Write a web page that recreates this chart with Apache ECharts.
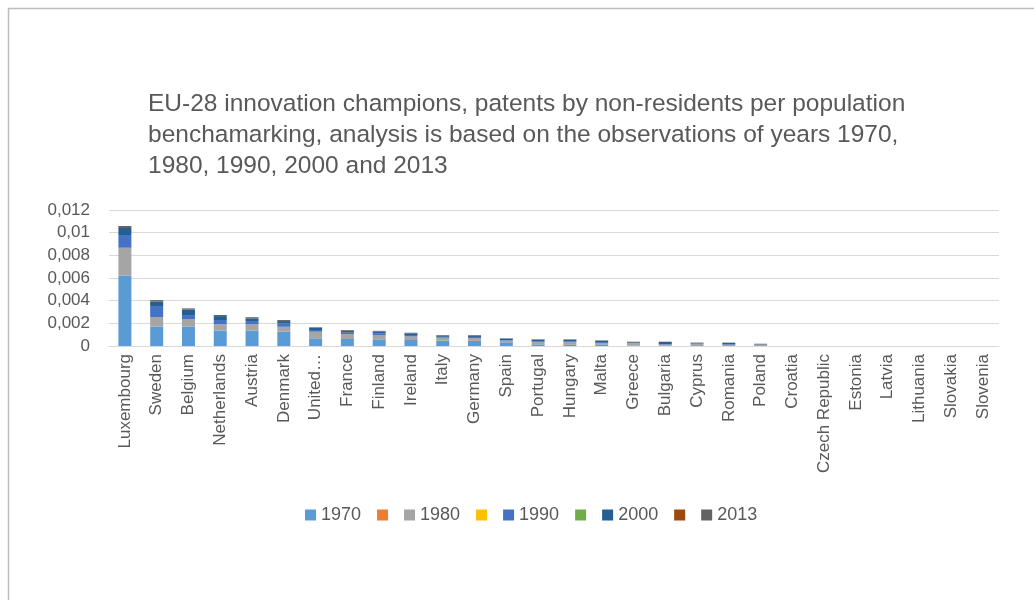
<!DOCTYPE html>
<html>
<head>
<meta charset="utf-8">
<script src="https://cdn.jsdelivr.net/npm/echarts@6/dist/echarts.min.js"></script>
<style>
  html, body { margin: 0; padding: 0; background: #fff; }
  #main { width: 1034px; height: 600px; }
</style>
</head>
<body>
<div id="main"></div>
<script>
// countries, ordered as in the chart
var countries = ['Luxembourg', 'Sweden', 'Belgium', 'Netherlands', 'Austria', 'Denmark', 'United Kingdom',
  'France', 'Finland', 'Ireland', 'Italy', 'Germany', 'Spain', 'Portugal', 'Hungary', 'Malta', 'Greece',
  'Bulgaria', 'Cyprus', 'Romania', 'Poland', 'Croatia', 'Czech Republic', 'Estonia', 'Latvia', 'Lithuania',
  'Slovakia', 'Slovenia']

var v1970 = [0.0062, 0.0017, 0.0017, 0.00135, 0.00135, 0.00126, 0.00068, 0.00062, 0.00059, 0.00053, 0.00047,
  0.00045, 0.00033, 0.00015, 0.0001, 0.00015, 0.00003, 0.00002, 0, 0, 0, 0, 0, 0, 0, 0, 0, 0]
var v1980 = [0.00247, 0.00085, 0.00068, 0.00056, 0.00056, 0.00044, 0.00058, 0.00044, 0.00038, 0.00031, 0.00026,
  0.00025, 0.00015, 0.0002, 0.00022, 0.00012, 0.00022, 0.0001, 0.0002, 0.0001, 0.00012, 0, 0, 0, 0, 0, 0, 0]
var v1990 = [0.00112, 0.00091, 0.00035, 0.00038, 0.00029, 0.0003, 0.00015, 0.00012, 0.00013, 0.00013, 0.00008,
  0.0001, 0.00005, 0.00006, 0.00008, 0.00008, 0.00003, 0.00005, 0, 0.00005, 0, 0, 0, 0, 0, 0, 0, 0]
var v2000 = [0.00062, 0.00046, 0.00049, 0.00035, 0.00024, 0.0002, 0.00018, 0.00017, 0.00018, 0.00015, 0.00012,
  0.00013, 0.00012, 0.00015, 0.00016, 0.00012, 0.00006, 0.00018, 0.00005, 0.00013, 0.00004, 0, 0, 0, 0, 0, 0, 0]
var v2013 = [0.00018, 0.00013, 0.0001, 0.0001, 0.0001, 0.00009, 0.00006, 0.00006, 0.00006, 0.00005, 0.00004,
  0.00004, 0.00003, 0.00003, 0.00003, 0.00003, 0.00004, 0.00003, 0.00005, 0.00002, 0.00004, 0, 0, 0, 0, 0, 0, 0]
// the unlabeled legend entries in the original have no visible values
var empty = countries.map(function () { return 0 })

var yMin = 0, yMax = 0.012, yStep = 0.002

var font = 'Liberation Sans'
var textColor = '#595959'

function bar(name, color, data) {
  return { name: name, type: 'bar', stack: 'all', barWidth: 13, itemStyle: { color: color }, data: data }
}

var chart = echarts.init(document.getElementById('main'))
chart.setOption({
  backgroundColor: '#fff',
  textStyle: { fontFamily: font },
  animation: false,
  graphic: [{
    type: 'rect', left: 6, top: 6, silent: true,
    shape: { width: 1040, height: 600 },
    style: { fill: 'none', stroke: '#bdbdbd', lineWidth: 1.5 }
  }],
  title: {
    text: 'EU-28 innovation champions, patents by non-residents per population\n' +
      'benchamarking, analysis is based on the observations of years 1970,\n' +
      '1980, 1990, 2000 and 2013',
    left: 143, top: 84,
    textStyle: { fontFamily: font, fontSize: 24.5, fontWeight: 'normal', color: textColor, lineHeight: 31 }
  },
  legend: {
    left: 300, top: 501,
    icon: 'rect', itemWidth: 11, itemHeight: 11, itemGap: 16,
    formatter: function (n) { return n.trim() },
    textStyle: { fontFamily: font, fontSize: 18, color: textColor }
  },
  grid: { left: 109, right: 35, top: 210, bottom: 254 },
  xAxis: {
    type: 'category',
    data: countries,
    axisLine: { lineStyle: { color: '#d9d9d9' } },
    axisTick: { show: false },
    axisLabel: {
      rotate: 90, interval: 0, margin: 8, color: textColor, fontSize: 17, fontFamily: font,
      formatter: function (v) { return v === 'United Kingdom' ? 'United…' : v }
    }
  },
  yAxis: {
    type: 'value', min: yMin, max: yMax, interval: yStep,
    axisLine: { show: false },
    axisTick: { show: false },
    splitLine: { lineStyle: { color: '#d9d9d9' } },
    axisLabel: {
      color: textColor, fontSize: 17, fontFamily: font, margin: 19,
      formatter: function (v) { return v === 0 ? '0' : String(+v.toFixed(3)).replace('.', ',') }
    }
  },
  series: [
    bar('1970', '#5B9BD5', v1970),
    bar(' ', '#ED7D31', empty),
    bar('1980', '#A5A5A5', v1980),
    bar('  ', '#FFC000', empty),
    bar('1990', '#4472C4', v1990),
    bar('   ', '#70AD47', empty),
    bar('2000', '#255E91', v2000),
    bar('    ', '#9E480E', empty),
    bar('2013', '#636363', v2013)
  ]
})
</script>
</body>
</html>
